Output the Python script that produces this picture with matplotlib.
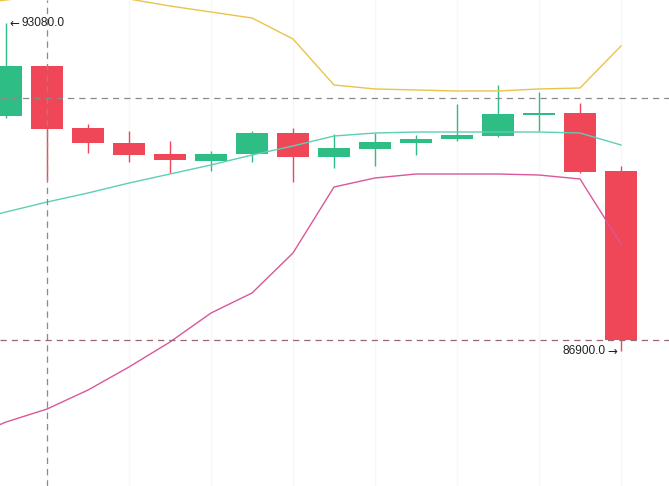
import matplotlib
matplotlib.use("Agg")
import matplotlib.pyplot as plt
import numpy as np

# ---- data ----
opens  = [91328, 92270, 91102, 90819, 90612, 90480, 90612, 91007, 90555, 90706, 90819, 90894, 90951, 91347, 91384, 90292]
highs  = [93080, 92280, 91177, 91045, 90857, 90668, 91045, 91102, 90989, 91007, 90970, 91554, 91912, 91780, 91573, 90386]
lows   = [91290, 90122, 90631, 90461, 90254, 90292, 90461, 90084, 90348, 90386, 90593, 90857, 90932, 91045, 90260, 86900]
closes = [92270, 91083, 90819, 90593, 90499, 90612, 91007, 90555, 90725, 90838, 90894, 90970, 91365, 91384, 90273, 87107]

# Bollinger bands: first value belongs to the (off-screen) bar before the first candle
band_start = -1
boll_mid   = [89330, 89519, 89707, 89877, 90065, 90235, 90405, 90593, 90763, 90951, 91007, 91026, 91026, 91026, 91026, 91007, 90781]
boll_upper = [93420, 93513, 93608, 93589, 93532, 93400, 93287, 93174, 92779, 91912, 91837, 91818, 91799, 91799, 91837, 91855, 92647]
boll_lower = [85240, 85562, 85807, 86165, 86599, 87070, 87616, 87993, 88747, 89990, 90160, 90235, 90235, 90235, 90216, 90141, 88916]

max_label = "93080.0"
min_label = "86900.0"
crosshair_index = 1
crosshair_price = 91667

GREEN = "#2ebd85"
RED = "#ef4757"

fig = plt.figure(figsize=(6.69, 4.86), dpi=100)
ax = fig.add_axes([0, 0, 1, 1])
ax.set_facecolor("white")
for s in ax.spines.values():
    s.set_visible(False)
ax.set_xticks([])
ax.set_yticks([])

n = len(opens)
x = np.arange(n)
xb = np.arange(band_start, band_start + len(boll_mid))
ax.set_xlim(-0.146, 16.17)
ax.set_ylim(84357, 93513)

# faint grid
for gx in range(1, n, 2):
    ax.axvline(gx, color="#f7f7f7", lw=1, zorder=0)

width = 0.78
for i in range(n):
    o, h, l, c = opens[i], highs[i], lows[i], closes[i]
    col = GREEN if c >= o else RED
    ax.vlines(i, l, h, color=col, lw=1, zorder=2)
    bottom = min(o, c)
    height = max(abs(c - o), 18)
    ax.bar(i, height, width=width, bottom=bottom, color=col, edgecolor="none", zorder=3)

ax.plot(xb, boll_mid, color="#5ccfb4", lw=1, zorder=4)
ax.plot(xb, boll_upper, color="#e9c44a", lw=1, zorder=4)
ax.plot(xb, boll_lower, color="#d9579a", lw=1, zorder=4)

# crosshair and last price line
ax.axvline(crosshair_index, color="#8a8a8a", lw=0.9, dashes=(5, 4), zorder=5)
ax.axhline(crosshair_price, color="#8a8a8a", lw=0.9, dashes=(5, 4), zorder=5)
ax.axhline(closes[-1], color="#9a6670", lw=0.9, dashes=(5, 4), zorder=5)

fam = ["Liberation Sans", "DejaVu Sans"]
imax = int(np.argmax(highs))
imin = int(np.argmin(lows))
ax.annotate("\u2190", xy=(imax, highs[imax]), xytext=(2.5, 0),
            textcoords="offset points", ha="left", va="center",
            fontsize=8.5, color="#222222", family="DejaVu Sans", zorder=6)
ax.annotate(max_label, xy=(imax, highs[imax]), xytext=(11.5, 0),
            textcoords="offset points", ha="left", va="center",
            fontsize=8.6, color="#222222", family=fam, zorder=6)
ax.annotate("\u2192", xy=(imin, lows[imin]), xytext=(-2.5, 0),
            textcoords="offset points", ha="right", va="center",
            fontsize=8.5, color="#222222", family="DejaVu Sans", zorder=6)
ax.annotate(min_label, xy=(imin, lows[imin]), xytext=(-11.5, 0),
            textcoords="offset points", ha="right", va="center",
            fontsize=8.6, color="#222222", family=fam, zorder=6)

fig.savefig("out.png", dpi=100)
